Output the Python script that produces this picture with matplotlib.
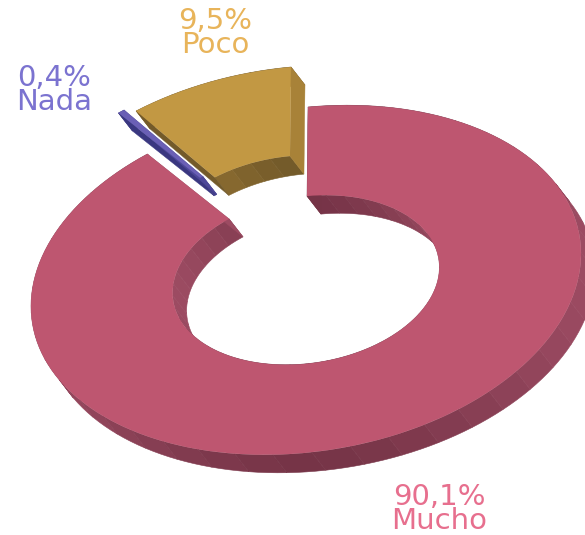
import numpy as np
import matplotlib
matplotlib.use("Agg")
import matplotlib.pyplot as plt
from matplotlib.patches import Wedge, Polygon
from matplotlib.transforms import Affine2D
from matplotlib.colors import to_rgb

categories = ["Mucho", "Nada", "Poco"]
values = [90.1, 0.4, 9.5]
value_labels = ["90,1%", "0,4%", "9,5%"]

# styling / layout (pixels)
top_colors = ["#BE5670", "#6A5FB5", "#C29843"]
dark_colors = ["#763447", "#3A3780", "#735A2A"]
light_colors = ["#9C4B62", "#4E4899", "#A88238"]
label_colors = ["#E76F8E", "#7B73D0", "#E8B45A"]
slice_shift = [(0, 0), (-29, -41), (-17, -40)]
label_xy = [(439, 509), (54, 90), (215, 33)]
CX, CY, RX, RY, SHEAR, LEAN = 306, 280, 275, 173, 25, 2
R_IN = 0.485
DEPTH = (14, 18)

fig = plt.figure(figsize=(5.85, 5.35), dpi=100)
ax = fig.add_axes([0, 0, 1, 1])
ax.set_xlim(0, 585)
ax.set_ylim(535, 0)
ax.axis("off")


def mapping(dx, dy):
    return Affine2D.from_values(RX, -SHEAR, LEAN, -RY, CX + dx, CY + dy)


def shade(dark, light, t):
    d, l = np.array(to_rgb(dark)), np.array(to_rgb(light))
    return tuple(d + (l - d) * t)


def wall(m, a0, a1, r, n, dark, light, z):
    edges = np.radians(np.linspace(a0, a1, n + 1))
    for e0, e1 in zip(edges[:-1], edges[1:]):
        arc = np.linspace(e0, e1, 5)
        pts = m.transform(np.c_[r * np.cos(arc), r * np.sin(arc)])
        quad = np.vstack([pts, (pts + DEPTH)[::-1]])
        nx = abs(np.cos((e0 + e1) / 2)) ** 1.5
        c = shade(dark, light, nx)
        ax.add_patch(Polygon(quad, closed=True, fc=c, ec=c, lw=0.4, zorder=z))


def face(m, a, color, z):
    rad = np.radians(a)
    u = np.array([[R_IN * np.cos(rad), R_IN * np.sin(rad)], [np.cos(rad), np.sin(rad)]])
    p = m.transform(u)
    quad = np.vstack([p, (p + DEPTH)[::-1]])
    ax.add_patch(Polygon(quad, closed=True, fc=color, ec=color, lw=0.3, zorder=z))


spans = np.array(values) / sum(values) * 360.0
start = 90.0
for i, (cat, span) in enumerate(zip(categories, spans)):
    a1 = start
    a0 = start - span
    start = a0
    m = mapping(*slice_shift[i])
    z = 2 if i == 0 else 6 - i
    n_out = max(1, int(span / 8))
    wall(m, a0, a1, 1.0, n_out, dark_colors[i], light_colors[i], z)
    wall(m, a0, a1, R_IN, n_out, dark_colors[i], light_colors[i], z)
    face(m, a1, dark_colors[i], z)
    face(m, a0, light_colors[i], z)
    ax.add_patch(Wedge((0, 0), 1.0, a0, a1, width=1 - R_IN, fc=top_colors[i], lw=0,
                       transform=m + ax.transData, zorder=z + 0.5))
    ax.text(*label_xy[i], f"{value_labels[i]}\n{cat}", color=label_colors[i],
            family="DejaVu Sans", fontsize=21, ha="center", va="center",
            ma="center", linespacing=0.82, zorder=9)

fig.savefig("out.png", dpi=100, facecolor="white")
